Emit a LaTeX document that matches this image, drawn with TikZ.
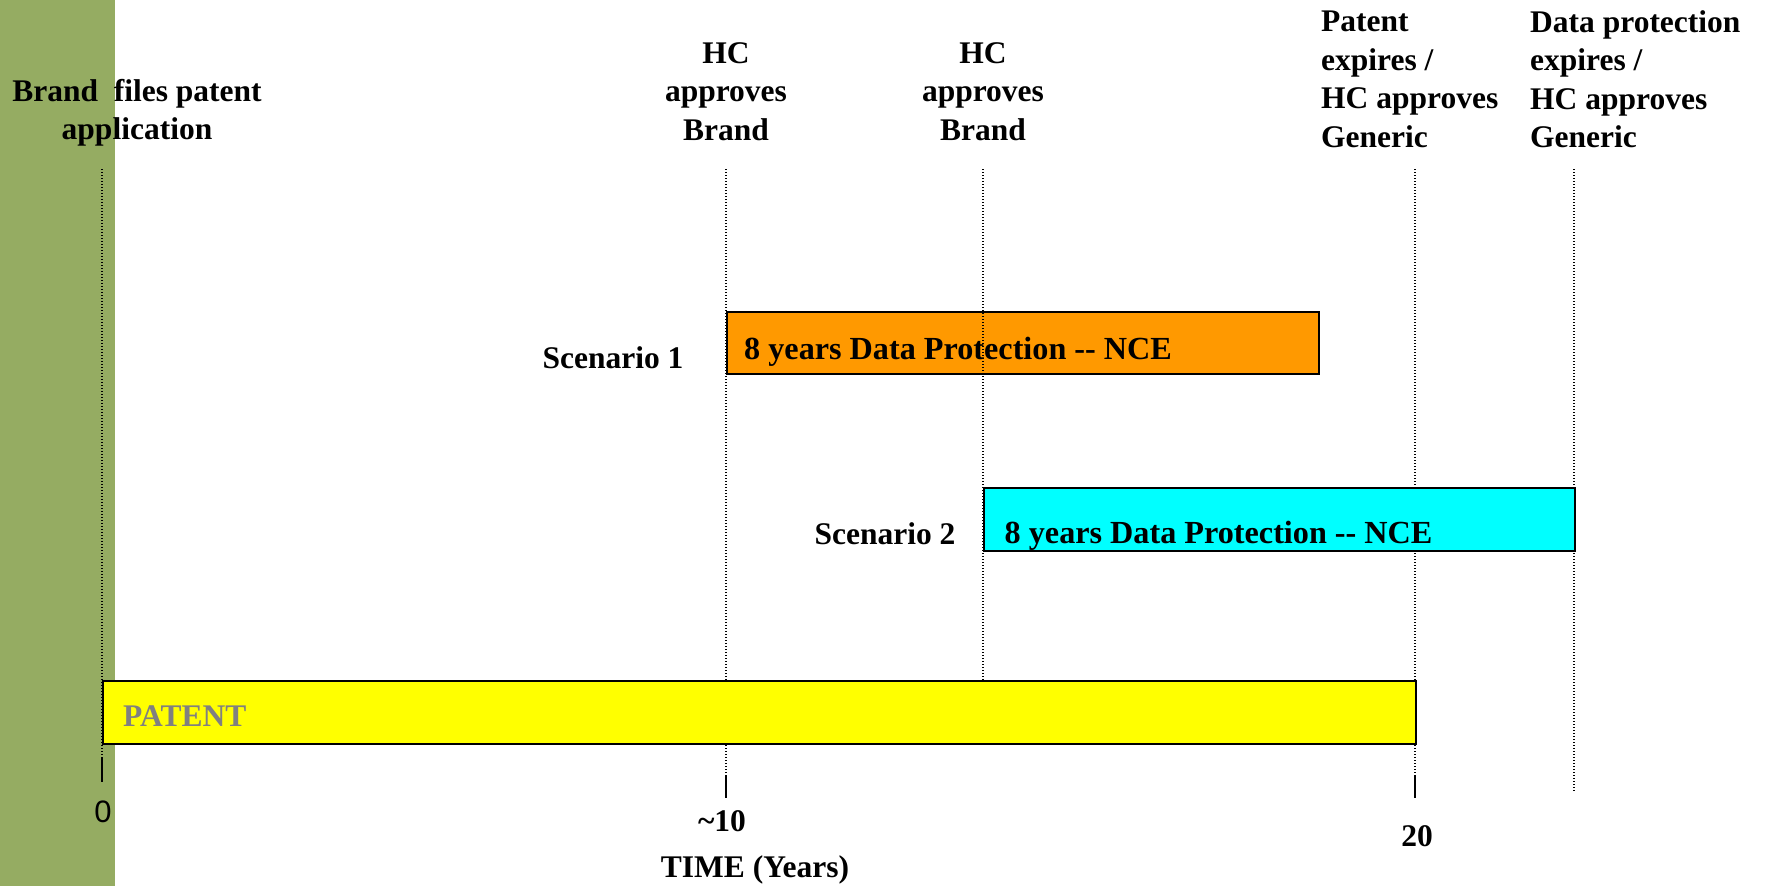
\documentclass[tikz,border=0pt]{standalone}
\usepackage{fontspec}
\setmainfont{Liberation Serif}
\newfontfamily\axisnum{Liberation Sans}

\definecolor{bandgreen}{RGB}{149,172,98}
\definecolor{dporange}{RGB}{255,153,0}
\definecolor{dpcyan}{RGB}{0,255,255}
\definecolor{patyellow}{RGB}{255,255,0}
\definecolor{patgray}{RGB}{128,128,128}

\begin{document}
\begin{tikzpicture}[x=1pt,y=-1pt,
  lbl/.style={font=\bfseries\fontsize{31.5}{38.5}\selectfont, inner sep=0pt},
  bartext/.style={font=\bfseries\fontsize{32.2}{38.5}\selectfont, inner sep=0pt, anchor=base west},
  guide/.style={line width=1.3pt, dash pattern=on 1.2pt off 1.8pt},
  tickmark/.style={line width=1.8pt},
  bar/.style={draw=black, line width=1.5pt, inner sep=0pt, anchor=north west}]
\useasboundingbox (0,0) rectangle (1765,886);

% green side band
\fill[bandgreen] (0,0) rectangle (115,886);

% scenario 1 data protection bar
\node[bar, fill=dporange, minimum width=592pt, minimum height=62pt] (s1bar) at (726,311) {};
\node[bartext] (s1text) at (744,359.5) {8 years Data Protection -{}- NCE};

% guide lines from the event labels down to the time axis
\coordinate (g0top) at (102,169);   \coordinate (g0end) at (102,757);
\coordinate (g1top) at (726,169);   \coordinate (g1end) at (726,775);
\coordinate (g2top) at (983,169);   \coordinate (g2end) at (983,680);
\coordinate (g3top) at (1415,169);  \coordinate (g3end) at (1415,775);
\coordinate (g4top) at (1574,169);  \coordinate (g4end) at (1574,792);
\foreach \g in {0,...,4} { \draw[guide] (g\g top) -- (g\g end); }

% scenario 2 data protection bar
\node[bar, fill=dpcyan, minimum width=591pt, minimum height=63pt] (s2bar) at (983,487) {};
\node[bartext] (s2text) at (1004.5,543.3) {8 years Data Protection -{}- NCE};

% patent term bar
\node[bar, fill=patyellow, minimum width=1313pt, minimum height=63pt] (patbar) at (102,680) {};
\node[lbl, anchor=base west, text=patgray] (pattext) at (123,726.5) {PATENT};

% axis ticks
\coordinate (t0) at (102,782);
\coordinate (t1) at (726,798);
\coordinate (t3) at (1415,798);
\draw[tickmark] (g0end) -- (t0);
\draw[tickmark] (g1end) -- (t1);
\draw[tickmark] (g3end) -- (t3);

% axis labels
\node[inner sep=0pt, anchor=base, font=\axisnum\fontsize{31}{36}\selectfont] (n0) at (103,822.5) {0};
\node[lbl, anchor=base] (n10) at (722,831.7) {\textasciitilde10};
\node[lbl, anchor=base] (n20) at (1417,846.7) {20};
\node[lbl, anchor=base] (axis) at (755,877) {TIME (Years)};

% scenario names
\node[lbl, anchor=base] (sc1) at (613,368) {Scenario 1};
\node[lbl, anchor=base] (sc2) at (885,544) {Scenario 2};

% event labels
\node[lbl, align=center] (ev0) at (137,112.6) {Brand\ \ files patent\\application};
\node[lbl, align=center] (ev1) at (726,91.5) {HC\\approves\\Brand};
\node[lbl, align=center] (ev2) at (983,91.5) {HC\\approves\\Brand};
\node[lbl, align=left, anchor=west] (ev3) at (1321,79.1) {Patent\\expires /\\HC approves\\Generic};
\node[lbl, align=left, anchor=west] (ev4) at (1530,79.1) {Data protection\\expires /\\HC approves\\Generic};
\end{tikzpicture}
\end{document}
